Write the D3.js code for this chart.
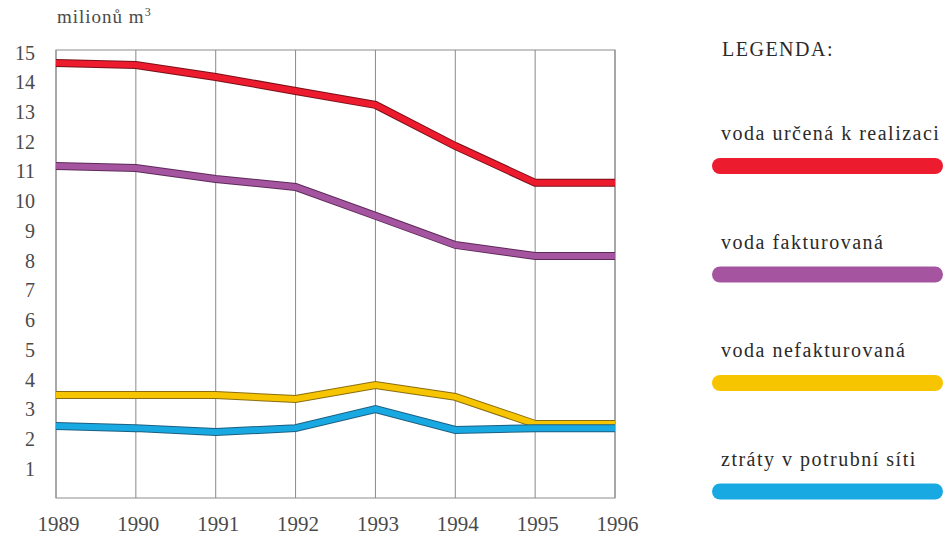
<!DOCTYPE html>
<html>
<head>
<meta charset="utf-8">
<script src="https://cdn.jsdelivr.net/npm/d3@7"></script>
<style>
  body { margin: 0; background: #fff; }
  text { font-family: "Liberation Serif", "DejaVu Serif", serif; }
</style>
</head>
<body>
<div id="chart"></div>
<script>
// data (milionů m3)
var years = [1989, 1990, 1991, 1992, 1993, 1994, 1995, 1996];
var realizace = [14.63, 14.56, 14.16, 13.69, 13.22, 11.84, 10.6, 10.6];
var fakturovana = [11.17, 11.1, 10.73, 10.46, 9.49, 8.51, 8.14, 8.14];
var nefakturovana = [3.46, 3.46, 3.46, 3.33, 3.8, 3.4, 2.49, 2.49];
var ztraty = [2.42, 2.35, 2.22, 2.35, 2.99, 2.29, 2.35, 2.35];
var yTicks = [1, 2, 3, 4, 5, 6, 7, 8, 9, 10, 11, 12, 13, 14, 15];

var seriesNames = ["voda určená k realizaci", "voda fakturovaná", "voda nefakturovaná", "ztráty v potrubní síti"];
var seriesColors = ["#ec1b2e", "#a5559f", "#f7c400", "#18a9e3"];
var seriesEdges = ["#7a1018", "#5e2a5a", "#8a6d10", "#1d5f80"];
var seriesValues = [realizace, fakturovana, nefakturovana, ztraty];

var W = 946, H = 536;
var svg = d3.select("#chart").append("svg")
    .attr("width", W).attr("height", H);

var x = d3.scaleLinear().domain([1989, 1996]).range([56, 615]);
var y = d3.scaleLinear().domain([0, 15]).range([498, 52]);

// frame + vertical grid
svg.append("rect")
    .attr("x", x(1989)).attr("y", y(15) - 2)
    .attr("width", x(1996) - x(1989)).attr("height", y(0) - y(15) + 2)
    .attr("fill", "none").attr("stroke", "#a0a0a0").attr("stroke-width", 1.2);

svg.append("g").selectAll("line")
    .data(years)
    .enter().append("line")
    .attr("x1", function(d) { return x(d); })
    .attr("x2", function(d) { return x(d); })
    .attr("y1", y(15) - 2).attr("y2", y(0))
    .attr("stroke", "#8a8a8a").attr("stroke-width", 1);

// y axis labels
var yAxis = d3.axisLeft(y).tickValues(yTicks).tickSize(0).tickPadding(0);
var gy = svg.append("g").attr("transform", "translate(35,0)").call(yAxis);
gy.select(".domain").remove();
gy.selectAll("text")
    .style("font-family", "'Liberation Serif', serif")
    .style("font-size", "20px")
    .attr("fill", "#4a4a4a")
    .attr("dy", "0.35em");

// x axis labels
var xAxis = d3.axisBottom(x).tickValues(years).tickFormat(d3.format("d")).tickSize(0).tickPadding(0);
var gx = svg.append("g").attr("transform", "translate(2,516)").call(xAxis);
gx.select(".domain").remove();
gx.selectAll("text")
    .style("font-family", "'Liberation Serif', serif")
    .style("font-size", "21px")
    .attr("fill", "#4a4a4a");

// unit label
var unit = svg.append("text").attr("x", 57).attr("y", 23)
    .attr("font-size", 19).attr("letter-spacing", 1).attr("fill", "#4a4a4a")
    .text("milionů m");
unit.append("tspan").attr("dy", -7).attr("font-size", 12).text("3");

// lines
var line = d3.line()
    .x(function(d, i) { return x(years[i]); })
    .y(function(d) { return y(d); });

var lines = svg.append("g");
seriesValues.forEach(function(vals, k) {
  lines.append("path")
      .attr("d", line(vals))
      .attr("fill", "none")
      .attr("stroke", seriesEdges[k])
      .attr("stroke-width", 8)
      .attr("stroke-linejoin", "miter");
  lines.append("path")
      .attr("d", line(vals))
      .attr("fill", "none")
      .attr("stroke", seriesColors[k])
      .attr("stroke-width", 6)
      .attr("stroke-linejoin", "miter");
});

// legend
var legend = svg.append("g").attr("transform", "translate(720,0)");
legend.append("text").attr("x", 2).attr("y", 56)
    .attr("font-size", 20).attr("letter-spacing", 1.5).attr("fill", "#2a2a2a")
    .text("LEGENDA:");

var item = legend.selectAll(".item")
    .data(seriesNames)
    .enter().append("g")
    .attr("class", "item")
    .attr("transform", function(d, i) { return "translate(0," + (140 + i * 108.5) + ")"; });

item.append("text")
    .attr("x", 1).attr("y", 0)
    .attr("font-size", 20).attr("letter-spacing", 1.5).attr("fill", "#2a2a2a")
    .text(function(d) { return d; });

item.append("line")
    .attr("x1", 0).attr("x2", 215)
    .attr("y1", 26).attr("y2", 26)
    .attr("stroke", function(d, i) { return seriesColors[i]; })
    .attr("stroke-width", 16)
    .attr("stroke-linecap", "round");
</script>
</body>
</html>
